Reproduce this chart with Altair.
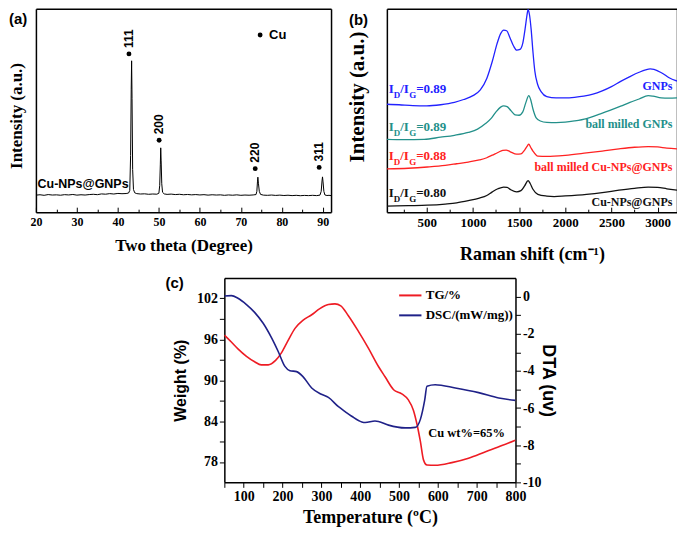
import altair as alt
import pandas as pd

SERIF = "Liberation Serif"
SANS = "Liberation Sans"

# ---------------- (a) XRD ----------------
xrd_two_theta = [20.0, 21.0, 22.0, 23.0, 24.0, 25.0, 26.0, 27.0, 28.0, 29.0, 30.0, 31.0, 32.0, 33.0,
                 34.0, 35.0, 36.0, 37.0, 38.0, 39.0, 40.0, 41.0, 42.0, 42.6, 42.9, 43.1, 43.25, 43.35,
                 43.45, 43.6, 43.8, 44.1, 44.6, 45.5, 46.5, 47.5, 48.5, 49.5, 50.0, 50.2, 50.35, 50.45,
                 50.55, 50.7, 50.9, 51.3, 52.0, 53.0, 54.0, 55.0, 56.0, 57.0, 58.0, 59.0, 60.0, 61.0,
                 62.0, 63.0, 64.0, 65.0, 66.0, 67.0, 68.0, 69.0, 70.0, 71.0, 72.0, 73.0, 73.7, 73.9,
                 74.05, 74.15, 74.3, 74.5, 74.8, 75.5, 76.5, 77.5, 78.5, 79.5, 80.5, 81.5, 82.5, 83.5,
                 84.5, 85.5, 86.5, 87.5, 88.5, 89.3, 89.6, 89.8, 89.92, 90.05, 90.25, 90.5, 91.0, 91.5, 92.0]
xrd_intensity = [18.0, 18.4, 17.8, 18.6, 18.1, 18.3, 17.9, 18.5, 18.2, 18.7, 18.0, 18.4, 18.1, 18.6,
                 18.9, 18.5, 19.3, 19.0, 19.6, 19.2, 19.8, 19.5, 19.7, 20.2, 23.0, 60.0, 130.0, 160.0,
                 120.0, 45.0, 24.0, 20.5, 19.6, 19.2, 19.4, 18.9, 19.2, 19.0, 20.0, 28.0, 50.0, 68.0,
                 55.0, 30.0, 21.0, 19.3, 18.8, 19.1, 18.6, 18.9, 18.4, 18.7, 18.3, 18.6, 18.2, 18.5,
                 18.0, 18.4, 18.1, 18.3, 17.8, 18.2, 17.9, 18.3, 17.8, 18.1, 17.9, 18.2, 18.6, 22.0,
                 32.0, 37.0, 30.0, 22.0, 18.8, 18.0, 17.8, 18.1, 17.7, 18.0, 17.6, 17.9, 17.5, 17.8,
                 17.4, 17.7, 17.5, 17.8, 17.5, 18.0, 22.0, 33.0, 37.3, 32.0, 22.0, 18.2, 17.6, 17.8, 17.5]
xrd_peak_names = ["111", "200", "220", "311"]
xrd_peak_marker_x = [42.7, 50.06, 73.5, 89.1]
xrd_peak_marker_y = [167.3, 76.0, 46.0, 47.3]
xrd_legend_text = ["Cu"]
xrd_legend_x = [74.7]
xrd_legend_y = [187.3]
xrd_sample_text = ["Cu-NPs@GNPs"]
xrd_sample_x = [20.4]
xrd_sample_y = [30.0]
xrd_major_ticks = [20, 30, 40, 50, 60, 70, 80, 90]
xrd_minor_ticks = [25, 35, 45, 55, 65, 75, 85]

# ---------------- (b) Raman ----------------
raman_series = ["GNPs", "ball milled GNPs", "ball milled Cu-NPs@GNPs", "Cu-NPs@GNPs"]
raman_colors = ["#2222ff", "#23908a", "#ff2222", "#111111"]
gnps_shift = [70, 200, 350, 500, 650, 800, 900, 1000, 1080, 1150, 1210, 1260, 1300, 1333, 1365, 1400,
              1440, 1474, 1510, 1540, 1565, 1585, 1597, 1612, 1630, 1650, 1670, 1700, 1740, 1800, 1900,
              2000, 2100, 2200, 2300, 2400, 2500, 2600, 2700, 2800, 2870, 2920, 2960, 3000, 3060, 3120, 3210]
gnps_int = [113, 112.5, 111.5, 111.3, 112.5, 115, 118, 122, 128, 140, 158, 176, 187, 190.7, 190, 183,
            174, 169.7, 170.5, 177, 192, 206, 212, 207, 192, 168, 148, 134, 126, 121, 119.7,
            119.7, 120.3, 121.5, 123.5, 127, 131.5, 137, 142, 146.5, 149, 150, 149.5, 148, 145, 141, 137.3]
bm_gnps_shift = [70, 250, 472, 650, 800, 950, 1050, 1140, 1200, 1250, 1300, 1333, 1370, 1410, 1457, 1500,
                 1540, 1573, 1605, 1625, 1650, 1685, 1730, 1800, 1900, 2000, 2100, 2230, 2350, 2476, 2600,
                 2700, 2800, 2898, 2950, 3039, 3120, 3210]
bm_gnps_int = [76.3, 76, 76.3, 78.5, 80.5, 83.5, 87, 93, 98.5, 105, 110, 111.3, 110.5, 106.5, 102, 101.5,
               105, 114.7, 122, 118, 108, 98.7, 95.5, 94, 93.8, 94.2, 95.5, 98, 102, 106.3, 111,
               115, 118.5, 122, 121.5, 119.7, 119.5, 119.7]
bm_cu_shift = [70, 300, 507, 700, 824, 950, 1070, 1150, 1210, 1270, 1323, 1360, 1400, 1474, 1520, 1560,
               1590, 1605, 1625, 1650, 1703, 1800, 1879, 2000, 2230, 2400, 2582, 2750, 2898, 3000, 3100, 3210]
bm_cu_int = [45.3, 46, 47.3, 49, 50.7, 52.5, 54.7, 57, 59.7, 62.5, 64.7, 65, 63.5, 60.7, 61, 65,
             69.5, 71.3, 68, 64, 58.7, 58.5, 58.7, 59.5, 62, 64, 66.3, 68, 68.7, 68.3, 67, 66.3]
cu_shift = [70, 300, 507, 700, 824, 950, 1070, 1150, 1210, 1270, 1333, 1370, 1410, 1474, 1520, 1560,
            1597, 1620, 1650, 1703, 1800, 1879, 2000, 2230, 2400, 2582, 2750, 2898, 3000, 3100, 3210]
cu_int = [6.3, 6.8, 7.3, 8.5, 9.7, 12, 14.7, 17.5, 21.3, 24.5, 26.3, 26, 23.5, 21.3, 22.5, 27.5,
          33, 30, 24, 18.7, 16.8, 16.3, 17, 18.7, 20.5, 23, 25, 26.3, 26, 24.5, 23]
raman_name_x = [3160, 3160, 3160, 3160]
raman_name_y = [132, 92, 47, 10.5]
raman_ratio_text = ["=0.89", "=0.89", "=0.88", "=0.80"]
raman_ratio_x = [89, 89, 89, 89]
raman_ratio_y = [125.3, 84.7, 54.7, 16.3]
raman_major_ticks = [500, 1000, 1500, 2000, 2500, 3000]
raman_minor_ticks = [250, 750, 1250, 1750, 2250, 2750]

# ---------------- (c) TG / DSC ----------------
tg_temp = [50, 68, 85, 107, 128, 145, 163, 182, 197, 214, 232, 253, 275, 296, 318, 335, 350, 369, 395,
           421, 447, 464, 486, 507, 524, 537, 546, 555, 563, 572, 593, 636, 679, 723, 765, 800]
tg_weight = [96.6, 95.6, 94.6, 93.5, 92.7, 92.25, 92.25, 92.9, 94.0, 95.8, 97.6, 98.8, 99.6, 100.5,
             101.1, 101.2, 100.9, 99.5, 97.2, 94.7, 92.0, 90.5, 88.6, 88.0, 87.1, 85.6, 83.6, 81.0,
             78.3, 77.55, 77.5, 77.9, 78.55, 79.5, 80.4, 81.2]
dsc_temp = [50, 68, 85, 107, 128, 150, 171, 189, 206, 219, 236, 253, 275, 300, 318, 344, 361, 378, 404,
            413, 438, 447, 473, 516, 542, 555, 566, 572, 593, 645, 705, 757, 800]
dsc_value = [0.03, 0.05, -0.09, -0.43, -0.85, -1.44, -2.2, -2.97, -3.76, -3.99, -4.04, -4.32, -4.92,
             -5.26, -5.43, -5.93, -6.19, -6.44, -6.75, -6.78, -6.70, -6.72, -6.92, -7.07, -7.04, -6.61,
             -5.59, -4.83, -4.75, -4.92, -5.17, -5.46, -5.59]
c_series = ["TG/%", "DSC/(mW/mg))"]
c_colors = ["#ee1c24", "#1f2188"]
c_note_text = ["Cu wt%=65%"]
c_note_x = [674]
c_note_y = [82.3]

# ---------------- shared styles ----------------
base_axis = dict(grid=False, tickColor="black", tickWidth=1, labelColor="black", titleColor="black",
                 labelFont=SERIF, labelFontWeight="bold", labelFlush=False, labelOverlap=False,
                 minExtent=0, domainColor="black", domainWidth=1.5)
serif_title = dict(titleFont=SERIF, titleFontWeight="bold")
sans_title = dict(titleFont=SANS, titleFontWeight="bold")
frame_axis = dict(domain=True, domainColor="black", domainWidth=1.5, ticks=False, labels=False,
                  grid=False, title=None, minExtent=0)

one = pd.DataFrame({"k": [0]})
TOP_H = 204

# ================= panel (a) =================
xrd_df = pd.DataFrame({"x": xrd_two_theta, "y": xrd_intensity})
peak_df = pd.DataFrame({"x": xrd_peak_marker_x, "y": xrd_peak_marker_y, "name": xrd_peak_names})
cu_df = pd.DataFrame({"x": xrd_legend_x, "y": xrd_legend_y, "name": xrd_legend_text})
samp_df = pd.DataFrame({"x": xrd_sample_x, "y": xrd_sample_y, "name": xrd_sample_text})

xa_scale = alt.Scale(domain=[20, 92], nice=False, zero=False)
ya_scale = alt.Scale(domain=[0, 215], nice=False, zero=False)
xa_none = alt.X("x:Q", scale=xa_scale, axis=None)
ya_none = alt.Y("y:Q", scale=ya_scale, axis=None)

a_line = alt.Chart(xrd_df).mark_line(color="black", strokeWidth=1, clip=True).encode(
    x=alt.X("x:Q", scale=xa_scale, axis=alt.Axis(values=xrd_major_ticks, orient="bottom", offset=-5,
            domain=False, tickSize=5, labelPadding=4, labelFontSize=12, title="Two theta (Degree)",
            titleFontSize=17, titlePadding=10, **serif_title, **base_axis)),
    y=alt.Y("y:Q", scale=ya_scale, axis=alt.Axis(title="Intensity (a.u.)", domain=True, labels=False,
            ticks=False, titleFontSize=17, titlePadding=10, titleY=107, **serif_title, **base_axis)),
)
a_dots = alt.Chart(peak_df).mark_circle(color="black", size=24, opacity=1).encode(
    x=alt.X("x:Q", scale=xa_scale, axis=alt.Axis(values=xrd_minor_ticks, orient="bottom", offset=-3,
            domain=False, tickSize=3, labels=False, title=None, **base_axis)),
    y=ya_none,
)
a_peak_text = alt.Chart(peak_df).mark_text(angle=270, align="left", baseline="middle", dx=6,
                                           font=SANS, fontWeight="bold", fontSize=12, color="black").encode(
    x=alt.X("x:Q", scale=xa_scale, axis=alt.Axis(orient="bottom", **frame_axis)),
    y=alt.Y("y:Q", scale=ya_scale, axis=alt.Axis(orient="right", **frame_axis)),
    text="name:N")
a_cu_dot = alt.Chart(cu_df).mark_circle(color="black", size=24, opacity=1).encode(
    x=alt.X("x:Q", scale=xa_scale, axis=alt.Axis(orient="top", **frame_axis)), y=ya_none)
a_cu_text = alt.Chart(cu_df).mark_text(align="left", baseline="middle", dx=9, font=SANS, fontWeight="bold",
                                       fontSize=13, color="black").encode(x=xa_none, y=ya_none, text="name:N")
a_samp = alt.Chart(samp_df).mark_text(align="left", baseline="middle", font=SANS, fontWeight="bold",
                                      fontSize=12.5, color="black").encode(x=xa_none, y=ya_none, text="name:N")
a_letter = alt.Chart(one).mark_text(align="left", baseline="top", font=SANS, fontWeight="bold",
                                    fontSize=15, color="black").encode(
    x=alt.value(-27), y=alt.value(3), text=alt.value("(a)"))

panel_a = alt.layer(a_line, a_dots, a_peak_text, a_cu_dot, a_cu_text, a_samp, a_letter).resolve_axis(
    x="independent", y="independent").properties(width=296, height=TOP_H)

# ================= panel (b) =================
rows = []
for name, xs, ys in [(raman_series[0], gnps_shift, gnps_int), (raman_series[1], bm_gnps_shift, bm_gnps_int),
                     (raman_series[2], bm_cu_shift, bm_cu_int), (raman_series[3], cu_shift, cu_int)]:
    for xv, yv in zip(xs, ys):
        rows.append({"x": xv, "y": yv, "s": name})
raman_df = pd.DataFrame(rows)
name_df = pd.DataFrame({"x": raman_name_x, "y": raman_name_y, "s": raman_series})
ratio_df = pd.DataFrame({"x": raman_ratio_x, "y": raman_ratio_y, "s": raman_series, "val": raman_ratio_text})

xb_scale = alt.Scale(domain=[68, 3210], nice=False, zero=False)
yb_scale = alt.Scale(domain=[0, 213], nice=False, zero=False)
xb_none = alt.X("x:Q", scale=xb_scale, axis=None)
yb_none = alt.Y("y:Q", scale=yb_scale, axis=None)
cb = alt.Color("s:N", scale=alt.Scale(domain=raman_series, range=raman_colors), legend=None)

b_lines = alt.Chart(raman_df).mark_line(strokeWidth=1.3, clip=True, interpolate="monotone").encode(
    x=alt.X("x:Q", scale=xb_scale, axis=alt.Axis(values=raman_major_ticks, orient="bottom", offset=-5,
            domain=False, tickSize=5, labelPadding=4, labelFontSize=13, format="d",
            title="Raman shift (cm⁻¹)", titleFontSize=18, titlePadding=16, **serif_title, **base_axis)),
    y=alt.Y("y:Q", scale=yb_scale, axis=alt.Axis(title="Intensity (a.u.)", domain=True, labels=False,
            ticks=False, titleFontSize=21, titlePadding=19, titleY=88, **serif_title, **base_axis)),
    color=cb, detail="s:N",
)
b_minor = alt.Chart(name_df).mark_point(opacity=0).encode(
    x=alt.X("x:Q", scale=xb_scale, axis=alt.Axis(values=raman_minor_ticks, orient="bottom", offset=-3,
            domain=False, tickSize=3, labels=False, title=None, **base_axis)),
    y=alt.Y("y:Q", scale=yb_scale, axis=alt.Axis(orient="right", **frame_axis)),
)
b_names = alt.Chart(name_df).mark_text(align="right", baseline="middle", font=SERIF, fontWeight="bold",
                                       fontSize=12).encode(
    x=alt.X("x:Q", scale=xb_scale, axis=alt.Axis(orient="bottom", **frame_axis)),
    y=yb_none, text="s:N", color=cb)


def ratio_piece(text, dx, dy, size, field=False, top_axis=False):
    base = alt.Chart(ratio_df).mark_text(align="left", baseline="alphabetic", font=SERIF, fontWeight="bold",
                                         fontSize=size, dx=dx, dy=dy)
    xenc = alt.X("x:Q", scale=xb_scale, axis=alt.Axis(orient="top", **frame_axis)) if top_axis else xb_none
    return base.encode(x=xenc, y=yb_none, text=("val:N" if field else alt.value(text)), color=cb)


b_r1 = ratio_piece("I", 0, 0, 13, top_axis=True)
b_r2 = ratio_piece("D", 5, 5, 9)
b_r3 = ratio_piece("/I", 11.5, 0, 13)
b_r4 = ratio_piece("G", 20.5, 5, 9)
b_r5 = ratio_piece("", 27.5, 0, 13, field=True)
b_letter = alt.Chart(one).mark_text(align="left", baseline="top", font=SANS, fontWeight="bold",
                                    fontSize=15, color="black").encode(
    x=alt.value(-38), y=alt.value(4), text=alt.value("(b)"))

panel_b = alt.layer(b_lines, b_minor, b_names, b_r1, b_r2, b_r3, b_r4, b_r5, b_letter).resolve_axis(
    x="independent", y="independent").properties(width=291, height=TOP_H)

# ================= panel (c) =================
tg_df = pd.DataFrame({"x": tg_temp, "w": tg_weight, "s": c_series[0]})
dsc_df = pd.DataFrame({"x": dsc_temp, "d": dsc_value, "s": c_series[1]})
note_df = pd.DataFrame({"x": c_note_x, "w": c_note_y, "txt": c_note_text})

c_axis = dict(base_axis)
c_axis["labelFontSize"] = 14

xc_scale = alt.Scale(domain=[50, 800], nice=False, zero=False)
yl_scale = alt.Scale(domain=[75, 105], nice=False, zero=False)
yr_scale = alt.Scale(domain=[-10, 1], nice=False, zero=False)
cc = alt.Color("s:N", scale=alt.Scale(domain=c_series, range=c_colors),
               legend=alt.Legend(title=None, orient="none", legendX=174, legendY=5, symbolType="stroke",
                                 symbolSize=500, symbolStrokeWidth=2, labelFont=SERIF, labelFontWeight="bold",
                                 labelFontSize=13, labelColor="black", labelOffset=3, padding=0, rowPadding=0,
                                 labelLimit=200))

tg_line = alt.Chart(tg_df).mark_line(strokeWidth=1.6, interpolate="monotone", clip=True).encode(
    x=alt.X("x:Q", scale=xc_scale, axis=alt.Axis(values=list(range(50, 801, 50)), orient="bottom",
            labelExpr="datum.value % 100 == 0 ? datum.label : ''", domain=True, tickSize=5, labelPadding=2,
            title="Temperature (ºC)", titleFontSize=18, titlePadding=5, **serif_title, **c_axis)),
    y=alt.Y("w:Q", scale=yl_scale, axis=alt.Axis(values=list(range(78, 103, 3)), orient="left",
            labelExpr="(datum.value - 78) % 6 == 0 ? datum.label : ''", domain=True, tickSize=5,
            labelPadding=2, title="Weight (%)", titleFontSize=16, titlePadding=8, **sans_title, **c_axis)),
    color=cc,
)
dsc_line = alt.Chart(dsc_df).mark_line(strokeWidth=1.6, interpolate="monotone", clip=True).encode(
    x=alt.X("x:Q", scale=xc_scale, axis=alt.Axis(orient="top", **frame_axis)),
    y=alt.Y("d:Q", scale=yr_scale, axis=alt.Axis(orient="right", values=list(range(-10, 1)),
            labelExpr="datum.value % 2 == 0 ? toString(datum.value) : ''", domain=True, tickSize=5,
            labelPadding=2, title="DTA (uv)", titleFontSize=18, titlePadding=1, titleBaseline="alphabetic",
            **sans_title, **c_axis)),
    color=cc,
)
c_note = alt.Chart(note_df).mark_text(align="center", baseline="middle", font=SERIF, fontWeight="bold",
                                      fontSize=12.5, color="black").encode(
    x=alt.X("x:Q", scale=xc_scale, axis=None), y=alt.Y("w:Q", scale=yl_scale, axis=None), text="txt:N")
c_letter = alt.Chart(one).mark_text(align="left", baseline="top", font=SANS, fontWeight="bold",
                                    fontSize=15, color="black").encode(
    x=alt.value(-59), y=alt.value(-2), text=alt.value("(c)"))

panel_c = alt.layer(tg_line, dsc_line, c_note, c_letter).resolve_scale(y="independent").resolve_axis(
    x="independent").properties(width=292, height=205)

spacer = alt.Chart(one).mark_point(opacity=0).encode(x=alt.value(20), y=alt.value(5)).properties(
    width=130, height=10)

top = alt.hconcat(panel_a, panel_b, spacing=16)
bottom = alt.hconcat(spacer, panel_c, spacing=0).resolve_scale(color="independent")
chart = alt.vconcat(top, bottom, spacing=13).resolve_scale(color="independent").properties(
    padding=0).configure_view(strokeOpacity=0)

chart.save("out.html", embed_options={"renderer": "svg", "actions": False})
